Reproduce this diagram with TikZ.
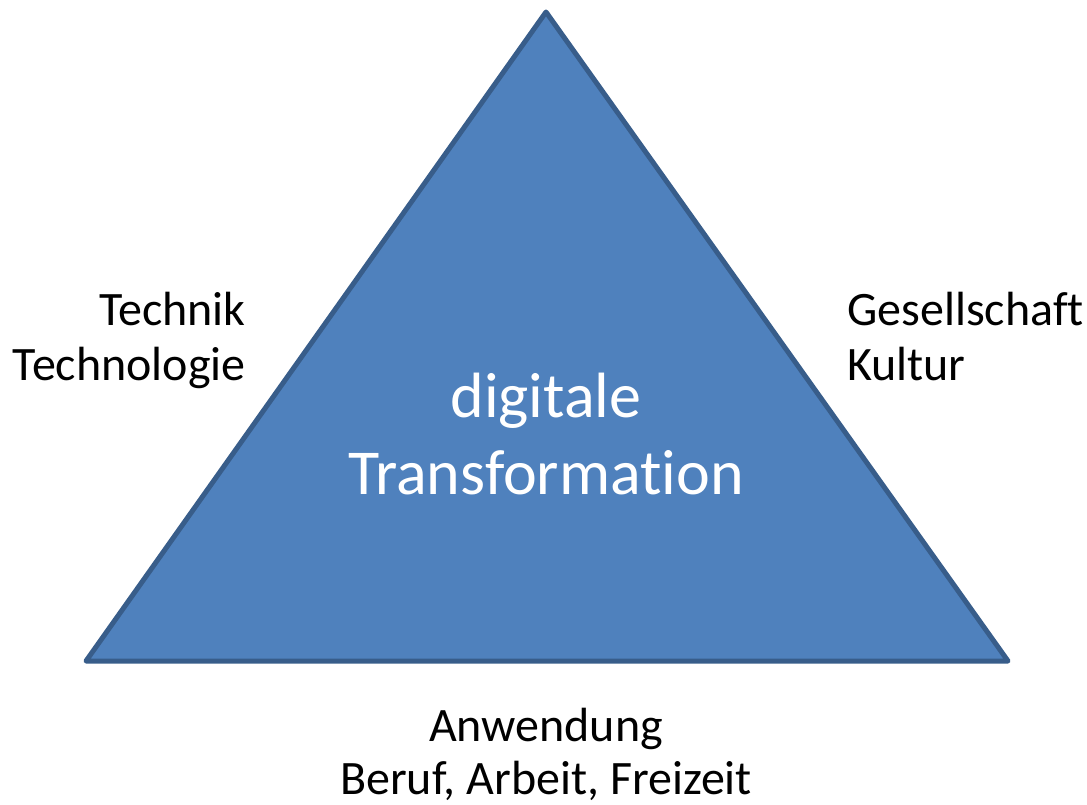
\documentclass[tikz,border=0pt]{standalone}
\usepackage{fontspec}
\setmainfont[Ligatures=NoCommon]{Carlito}
\definecolor{trifill}{HTML}{4F81BD}
\definecolor{tristroke}{HTML}{385D8A}
\begin{document}
\begin{tikzpicture}[x=1pt,y=-1pt,
  lbl/.style={font=\fontsize{48}{50}\selectfont, inner sep=0pt, text=black},
  ctr/.style={font=\fontsize{64}{70}\selectfont, inner sep=0pt, text=white}]
\useasboundingbox (0,0) rectangle (1087,805);
\coordinate (apex) at (546,12);
\coordinate (bl) at (86,661);
\coordinate (br) at (1008,661);
\draw[fill=trifill, draw=tristroke, line width=5pt, line join=round] (apex) -- (br) -- (bl) -- cycle;
\node[ctr, anchor=base] (c1) at (546,417) {digitale};
\node[ctr, anchor=base] (c2) at (546,494) {Transformation};
\node[lbl, anchor=base east] (l1) at (246,325) {Technik};
\node[lbl, anchor=base east] (l2) at (246,380) {Technologie};
\node[lbl, anchor=base west] (r1) at (847,325) {Gesellschaft};
\node[lbl, anchor=base west] (r2) at (847,380) {Kultur};
\node[lbl, anchor=base] (b1) at (546,741) {Anwendung};
\node[lbl, anchor=base] (b2) at (546,794) {Beruf, Arbeit, Freizeit};
\end{tikzpicture}
\end{document}
